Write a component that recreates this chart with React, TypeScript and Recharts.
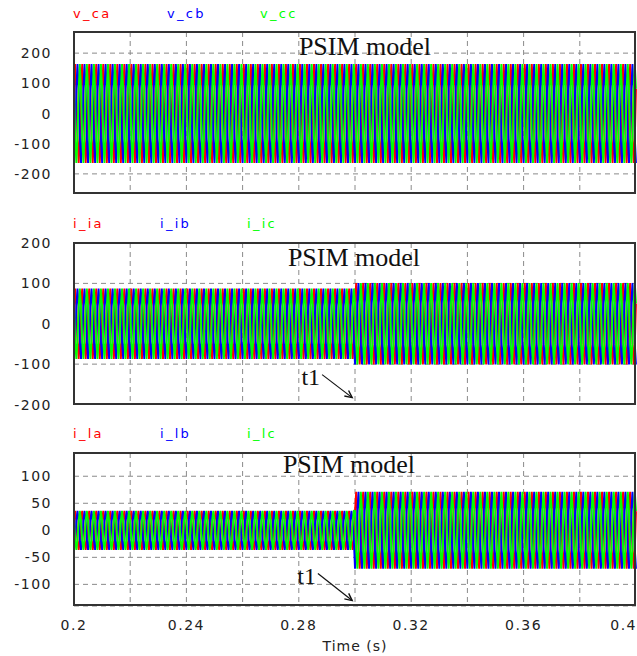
import React from 'react';
import { LineChart, Line, XAxis, YAxis, CartesianGrid, ReferenceLine } from 'recharts';

// ---------------- values ----------------
const timeRange = [0.2, 0.4];
const timeTicks = [0.2, 0.24, 0.28, 0.32, 0.36, 0.4];
const gridTimes = [0.22, 0.24, 0.26, 0.28, 0.3, 0.32, 0.34, 0.36, 0.38];
const lineFrequency = 400; // Hz (about 80 cycles across 0.2 s)
// one sampled cycle of the waveform, per unit (6 samples per cycle)
const cycleSamples = [0.5, 1, 0.5, -0.5, -1, -0.5];
const stepTime = 0.3; // t1

const voltageNames = ['v_ca', 'v_cb', 'v_cc'];
const voltagePeaks = [164, 164]; // before / after t1
const voltageTicks = [-200, -100, 0, 100, 200];
const voltageDomain = [-265, 270];

const inverterNames = ['i_ia', 'i_ib', 'i_ic'];
const inverterPeaks = [87, 101];
const inverterTicks = [-200, -100, 0, 100, 200];
const inverterDomain = [-200, 200];

const loadNames = ['i_la', 'i_lb', 'i_lc'];
const loadPeaks = [36, 71];
const loadTicks = [-100, -50, 0, 50, 100];
const loadDomain = [-140, 143];

const inverterArrow = [{ x: 0.2883, y: -126 }, { x: 0.299, y: -183 }];
const loadArrow = [{ x: 0.2868, y: -80 }, { x: 0.299, y: -130 }];

const titleText = 'PSIM model';
const phaseColors = ['#ff0000', '#0000ff', '#00ff00'];

// ---------------- build tables ----------------
function buildSeries(peaks: number[]) {
  const perCycle = cycleSamples.length;
  const nCycles = Math.round((timeRange[1] - timeRange[0]) * lineFrequency);
  const rows: { t: number; a: number; b: number; c: number }[] = [];
  for (let k = 0; k <= nCycles * perCycle; k++) {
    const t = timeRange[0] + k / (lineFrequency * perCycle);
    const amp = t < stepTime - 1e-9 ? peaks[0] : peaks[1];
    const i = k % perCycle;
    rows.push({
      t,
      a: amp * cycleSamples[i],
      b: amp * cycleSamples[(i + 4) % perCycle],
      c: amp * cycleSamples[(i + 2) % perCycle],
    });
  }
  return rows;
}

const voltageData = buildSeries(voltagePeaks);
const inverterData = buildSeries(inverterPeaks);
const loadData = buildSeries(loadPeaks);

// ---------------- layout ----------------
const W = 637;
const PLOT_LEFT = 74;
const RIGHT = 1;
const tickFont = 'DejaVu Sans, Verdana, sans-serif';
const serif = 'Liberation Serif, Times New Roman, serif';

const YTick = (props: any) => {
  const { x, y, payload } = props;
  return (
    <text x={x} y={y} dy="0.36em" textAnchor="end" fontSize={14} fill="#222" fontFamily={tickFont} style={{ letterSpacing: '1.5px' }}>
      {payload.value}
    </text>
  );
};

const XTick = (props: any) => {
  const { x, y, payload } = props;
  const last = payload.value === timeRange[1];
  return (
    <text x={last ? x + 1 : x} y={y} dy="0.71em" textAnchor={last ? 'end' : 'middle'} fontSize={14} fill="#222" fontFamily={tickFont} style={{ letterSpacing: '1.5px' }}>
      {payload.value}
    </text>
  );
};

const ArrowShape = (p: any) => {
  const { x1, y1, x2, y2 } = p;
  if (x1 == null || y1 == null) return null;
  const ang = Math.atan2(y2 - y1, x2 - x1);
  const L = 8;
  const spread = 0.45;
  const ax = x2 - L * Math.cos(ang - spread);
  const ay = y2 - L * Math.sin(ang - spread);
  const bx = x2 - L * Math.cos(ang + spread);
  const by = y2 - L * Math.sin(ang + spread);
  return (
    <g>
      <line x1={x1} y1={y1} x2={x2} y2={y2} stroke="#111" strokeWidth={1.2} />
      <polyline points={`${ax},${ay} ${x2},${y2} ${bx},${by}`} fill="none" stroke="#111" strokeWidth={1.4} />
      <text x={x1 - 2} y={y1 + 10} textAnchor="end" fontFamily={serif} fontSize={24} fill="#111">t1</text>
    </g>
  );
};

type PanelProps = {
  top: number;
  height: number;
  marginTop: number;
  marginBottom: number;
  data: any[];
  names: string[];
  ticks: number[];
  domain: number[];
  showX: boolean;
  arrow?: { x: number; y: number }[];
};

const Panel = ({ top, height, marginTop, marginBottom, data, names, ticks, domain, showX, arrow }: PanelProps) => {
  const xH = showX ? 50 : 0;
  const plotH = height - marginTop - marginBottom - xH;
  return (
    <div style={{ position: 'absolute', left: 0, top, width: W, height }}>
      <LineChart width={W} height={height} data={data} margin={{ top: marginTop, right: RIGHT, bottom: marginBottom, left: 0 }}>
        <CartesianGrid stroke="#8a8a8a" strokeDasharray="5 4" verticalValues={gridTimes} />
        <XAxis
          dataKey="t"
          type="number"
          domain={timeRange}
          ticks={timeTicks}
          hide={!showX}
          height={xH}
          axisLine={false}
          tickLine={false}
          tickSize={0}
          tickMargin={14}
          tick={<XTick />}
          interval={0}
          label={
            showX
              ? {
                  position: 'insideBottom',
                  content: (p: any) => {
                    const vb = p.viewBox || {};
                    return (
                      <text x={vb.x + vb.width / 2} y={vb.y + vb.height - 5} textAnchor="middle" fontSize={14} fill="#222" fontFamily={tickFont} style={{ letterSpacing: '1px' }}>
                        Time (s)
                      </text>
                    );
                  },
                }
              : undefined
          }
        />
        <YAxis
          type="number"
          domain={domain}
          ticks={ticks}
          width={PLOT_LEFT}
          axisLine={false}
          tickLine={false}
          tickSize={0}
          tickMargin={22}
          tick={<YTick />}
          interval={0}
          allowDataOverflow
        />
        {['a', 'b', 'c'].map((k, i) => (
          <Line key={k} dataKey={k} name={names[i]} stroke={phaseColors[i]} strokeWidth={1.9} dot={false} isAnimationActive={false} />
        ))}
        {arrow ? <ReferenceLine segment={arrow} ifOverflow="visible" shape={ArrowShape} /> : null}
      </LineChart>
      <div
        style={{
          position: 'absolute',
          left: PLOT_LEFT - 1,
          top: marginTop - 1,
          width: W - PLOT_LEFT - RIGHT + 1,
          height: plotH + 1,
          border: '2px solid #333',
          boxSizing: 'border-box',
          pointerEvents: 'none',
        }}
      />
    </div>
  );
};

const legendSpots = [
  { top: 18, xs: [73, 167, 260], names: voltageNames },
  { top: 228, xs: [73, 160, 247], names: inverterNames },
  { top: 438, xs: [73, 160, 247], names: loadNames },
];
const titleSpots = [
  { x: 365, y: 55 },
  { x: 354, y: 266 },
  { x: 349, y: 473 },
];

export default function App() {
  return (
    <div style={{ position: 'absolute', left: 0, top: 0, width: W, height: 656, background: '#fff', overflow: 'hidden' }}>
      <Panel top={0} height={200} marginTop={32} marginBottom={6.5} data={voltageData} names={voltageNames} ticks={voltageTicks} domain={voltageDomain} showX={false} />
      <Panel top={200} height={216} marginTop={43} marginBottom={11.5} data={inverterData} names={inverterNames} ticks={inverterTicks} domain={inverterDomain} showX={false} arrow={inverterArrow} />
      <Panel top={410} height={246} marginTop={43} marginBottom={0} data={loadData} names={loadNames} ticks={loadTicks} domain={loadDomain} showX={true} arrow={loadArrow} />
      <svg width={W} height={656} style={{ position: 'absolute', left: 0, top: 0, pointerEvents: 'none' }}>
        {legendSpots.map((row, r) =>
          row.names.map((n, i) => (
            <text key={`${r}-${i}`} x={row.xs[i]} y={row.top} fontSize={13} fill={phaseColors[i]} fontFamily={tickFont} style={{ letterSpacing: '2.3px' }}>
              {n}
            </text>
          ))
        )}
        {titleSpots.map((s, i) => (
          <text key={i} x={s.x} y={s.y} textAnchor="middle" fontSize={26} fontFamily={serif} fill="#111">
            {titleText}
          </text>
        ))}
      </svg>
    </div>
  );
}
